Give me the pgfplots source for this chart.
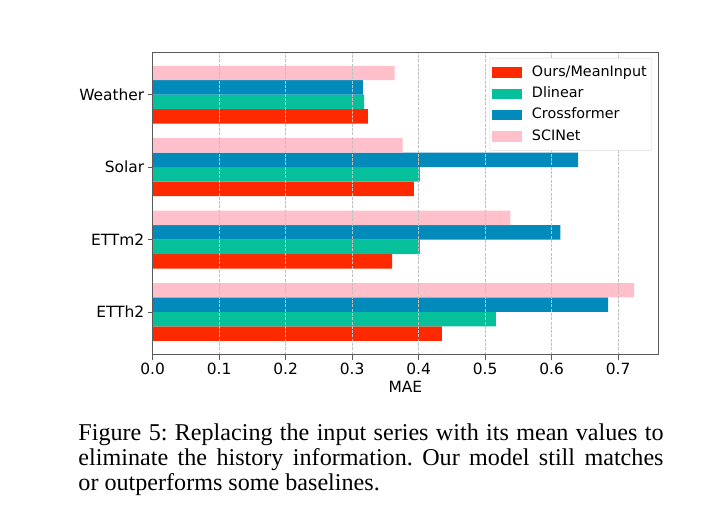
\documentclass[border=0pt]{standalone}
\usepackage{pgfplots}
\pgfplotsset{compat=1.18}
\usepackage{fontspec}
\setmainfont{Liberation Serif}
\newfontfamily\plotfont{DejaVu Sans}

\definecolor{cOurs}{RGB}{255,41,0}
\definecolor{cDlinear}{RGB}{6,191,155}
\definecolor{cCross}{RGB}{2,139,186}
\definecolor{cSCI}{RGB}{255,192,203}
\definecolor{gridgray}{RGB}{192,192,192}
\definecolor{spine}{RGB}{90,90,90}

\begin{document}
\begin{tikzpicture}
\path[use as bounding box] (-152.7bp,-161.3bp) rectangle (562.3bp,354.7bp);
\begin{axis}[
  at={(0,0)}, anchor=south west, scale only axis,
  width=505.3bp, height=302.7bp,
  xbar, bar width=0.2,
  xmin=0, xmax=0.76, ymin=-0.59, ymax=3.59,
  xtick={0,0.1,0.2,0.3,0.4,0.5,0.6,0.7},
  xticklabel style={/pgf/number format/.cd, fixed, fixed zerofill, precision=1},
  /pgf/number format/assume math mode=true,
  ytick={0,1,2,3},
  yticklabels={ETTh2,ETTm2,Solar,Weather},
  tick pos=left, tick align=outside, major tick length=4.9bp,
  xmajorgrids,
  major grid style={gridgray, line width=0.7bp, dash pattern=on 3bp off 1.3bp},
  axis line style={spine, line width=0.9bp},
  every tick/.style={spine, line width=0.9bp},
  tick label style={font=\plotfont\fontsize{15.5}{18}\selectfont},
  xlabel={MAE},
  label style={font=\plotfont\fontsize{15.5}{18}\selectfont},
  axis on top,
  legend cell align=left,
  legend image code/.code={\draw[#1,draw=none,sharp corners] (0bp,-5.2bp) rectangle (30bp,5.2bp);},
  legend style={at={(rel axis cs:1,1)}, xshift=-6bp, yshift=-6bp, anchor=north east,
    draw=black!15, rounded corners=2.5bp, fill=white,
    inner xsep=3bp, inner ysep=5.5bp, row sep=3.8bp, column sep=7.5bp,
    font=\plotfont\fontsize{14.4}{17}\selectfont,
    nodes={inner sep=2bp, text height=10.5bp, text depth=3bp}},
]
% categories: 0 = ETTh2, 1 = ETTm2, 2 = Solar, 3 = Weather
\addplot[fill=cOurs, draw=none, bar shift=-0.3]
  coordinates {(0.435,0) (0.360,1) (0.393,2) (0.3235,3)};
\addplot[fill=cDlinear, draw=none, bar shift=-0.1]
  coordinates {(0.516,0) (0.402,1) (0.402,2) (0.318,3)};
\addplot[fill=cCross, draw=none, bar shift=0.1]
  coordinates {(0.685,0) (0.613,1) (0.640,2) (0.316,3)};
\addplot[fill=cSCI, draw=none, bar shift=0.3]
  coordinates {(0.724,0) (0.538,1) (0.376,2) (0.364,3)};
\legend{Ours/MeanInput, Dlinear, Crossformer, SCINet}
\end{axis}
\node[anchor=base west, text width=585bp, align=justify, inner sep=0pt,
      font=\fontsize{24.2}{25.2}\selectfont]
  at (-74.4bp,-86bp)
  {\frenchspacing\hyphenpenalty=10000 Figure 5: Replacing the input series with its mean values to\linebreak
   eliminate the history information. Our model still matches\linebreak
   or outperforms some baselines.};
\end{tikzpicture}
\end{document}
